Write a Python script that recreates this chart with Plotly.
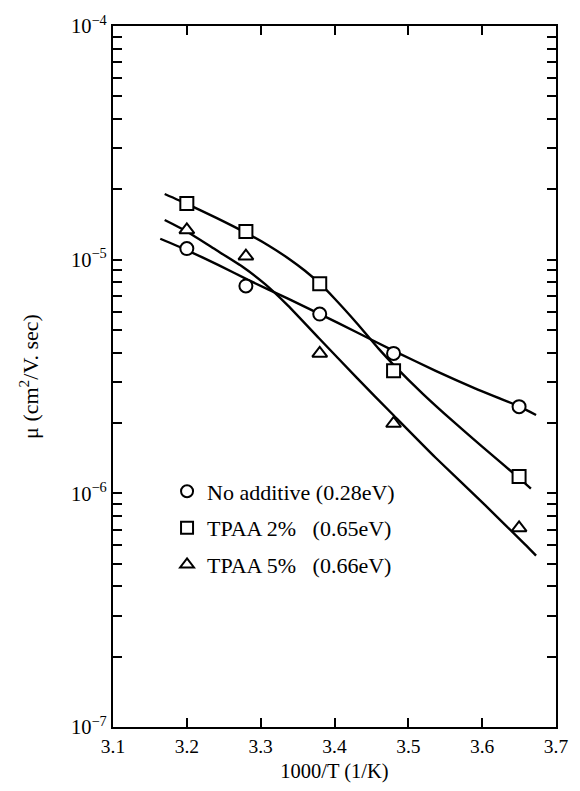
import plotly.graph_objects as go

# Measured mobility points
x_pts = [3.20, 3.28, 3.38, 3.48, 3.65]
mu_none = [1.115e-5, 7.72e-6, 5.85e-6, 3.97e-6, 2.35e-6]
mu_tpaa2 = [1.74e-5, 1.32e-5, 7.88e-6, 3.35e-6, 1.18e-6]
mu_tpaa5 = [1.34e-5, 1.035e-5, 3.97e-6, 1.99e-6, 7.11e-7]

# Hand-drawn trend curves through each series
fit_none_x = [3.164, 3.199, 3.243, 3.283, 3.337, 3.379, 3.430, 3.481, 3.537, 3.591, 3.650, 3.673]
fit_none_y = [1.229e-5, 1.102e-5, 9.48e-6, 8.19e-6, 6.81e-6, 5.88e-6, 4.889e-6, 4.063e-6,
              3.344e-6, 2.807e-6, 2.356e-6, 2.164e-6]
fit_tpaa2_x = [3.17, 3.20, 3.24, 3.28, 3.31, 3.34, 3.36, 3.38, 3.40, 3.43, 3.46, 3.48,
               3.52, 3.56, 3.60, 3.65, 3.666]
fit_tpaa2_y = [1.910e-5, 1.734e-5, 1.510e-5, 1.303e-5, 1.153e-5, 1.000e-5, 8.97e-6, 7.91e-6,
               6.82e-6, 5.358e-6, 4.150e-6, 3.548e-6, 2.661e-6, 2.042e-6, 1.585e-6,
               1.161e-6, 1.047e-6]
fit_tpaa5_x = [3.170, 3.199, 3.236, 3.274, 3.306, 3.337, 3.379, 3.430, 3.480, 3.537,
               3.604, 3.658, 3.673]
fit_tpaa5_y = [1.479e-5, 1.326e-5, 1.118e-5, 9.39e-6, 7.86e-6, 6.36e-6, 4.611e-6, 3.125e-6,
               2.158e-6, 1.420e-6, 8.90e-7, 6.045e-7, 5.413e-7]

NB = "\u00a0"
series_names = [
    "No additive (0.28eV)",
    f"TPAA 2%{NB * 3}(0.65eV)",
    f"TPAA 5%{NB * 3}(0.66eV)",
]
x_ticks = [3.1, 3.2, 3.3, 3.4, 3.5, 3.6, 3.7]
decades = [-7, -6, -5, -4]

FONT = "Liberation Serif, Times New Roman, serif"

fig = go.Figure()

for fx, fy in [(fit_none_x, fit_none_y), (fit_tpaa2_x, fit_tpaa2_y), (fit_tpaa5_x, fit_tpaa5_y)]:
    fig.add_trace(go.Scatter(
        x=fx, y=fy, mode="lines", showlegend=False, hoverinfo="skip",
        line=dict(color="black", width=2.4, shape="spline", smoothing=0.5),
    ))

symbols = ["circle", "square", "triangle-up"]
for i, (ys, sym, name) in enumerate(zip([mu_none, mu_tpaa2, mu_tpaa5], symbols, series_names)):
    fig.add_trace(go.Scatter(
        x=x_pts, y=ys, mode="markers", name=name, legendgroup=f"g{i}",
        marker=dict(symbol=sym, size=13, color="white",
                    line=dict(color="black", width=2)),
    ))

# Decade labels on the log axis, with every integer multiple as a minor tick
y_major = [10.0 ** d for d in decades]
y_major_text = [f"10<sup>\u2212{-d}</sup>" for d in decades]
y_minor = [m * 10.0 ** d for d in decades[:-1] for m in range(2, 10)]

fig.update_layout(
    width=580, height=791,
    margin=dict(l=113, r=18, t=22, b=60),
    paper_bgcolor="white", plot_bgcolor="white",
    font=dict(family=FONT, color="black", size=18),
    legend=dict(
        x=0.122, y=0.366, xanchor="left", yanchor="top",
        bgcolor="rgba(0,0,0,0)", font=dict(family=FONT, size=22),
        tracegroupgap=5, itemsizing="constant",
    ),
    xaxis=dict(
        range=[3.1, 3.7], tickvals=x_ticks, ticktext=[f"{v:.1f}" for v in x_ticks],
        ticks="inside", ticklen=9, tickwidth=1.8, tickcolor="black",
        showline=True, linecolor="black", linewidth=2.2, mirror="ticks",
        showgrid=False, zeroline=False,
        title=dict(text="1000/T (1/K)", font=dict(family=FONT, size=20.5), standoff=8),
        tickfont=dict(family=FONT, size=19.5),
    ),
    yaxis=dict(
        type="log", range=[-7, -4], tickvals=y_major, ticktext=y_major_text,
        ticks="inside", ticklen=9, tickwidth=1.8, tickcolor="black",
        minor=dict(tickvals=y_minor, ticks="inside", ticklen=9, tickwidth=1.8,
                   tickcolor="black", showgrid=False),
        showline=True, linecolor="black", linewidth=2.2, mirror="ticks",
        showgrid=False, zeroline=False,
        title=dict(text="\u03bc (cm<sup>2</sup>/V. sec)", font=dict(family=FONT, size=22),
                   standoff=26),
        tickfont=dict(family=FONT, size=20.5),
    ),
)

fig.write_html("out.html")
